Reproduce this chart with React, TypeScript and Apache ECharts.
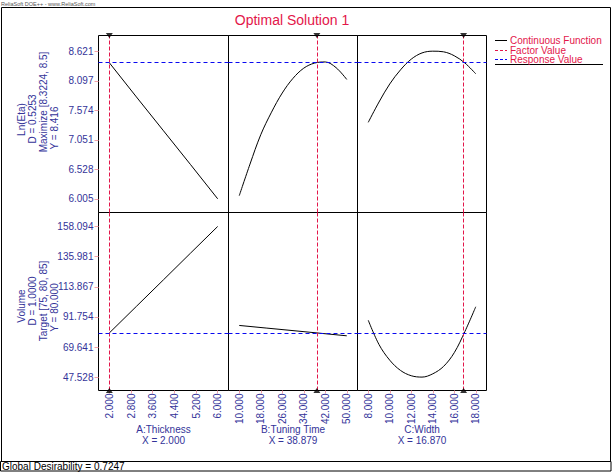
import React, { useEffect, useRef } from 'react';
import * as echarts from 'echarts';

// ---- data ----
const factorNames = ['A:Thickness', 'B:Tuning Time', 'C:Width'];
const factorValues = [2.0, 38.879, 16.87];
const factorLabels = ['X = 2.000', 'X = 38.879', 'X = 16.870'];
const xTicksA = [2, 2.8, 3.6, 4.4, 5.2, 6];
const xTicksB = [10, 18, 26, 34, 42, 50];
const xTicksC = [8, 10, 12, 14, 16, 18];
const etaTicks = [6.005, 6.528, 7.051, 7.574, 8.097, 8.621];
const volTicks = [47.528, 69.641, 91.754, 113.867, 135.981, 158.094];
const responseValues = [8.416, 80.0];
const etaNameLines = ['Ln(Eta)', 'D = 0.5253', 'Maximize [8.3224, 8.5]', 'Y = 8.416'];
const volNameLines = ['Volume', 'D = 1.0000', 'Target [75, 80, 85]', 'Y = 80.000'];

const thicknessX = [2, 3, 4, 5, 6];
const etaVsThickness = [8.416, 7.81, 7.21, 6.61, 6.005];
const volVsThickness = [80.0, 99.5, 119.0, 138.6, 158.094];
const tuningX = [10, 14, 18, 22, 26, 30, 34, 38, 42, 46, 50];
const etaVsTuning = [6.06, 6.62, 7.14, 7.54, 7.88, 8.14, 8.32, 8.41, 8.43, 8.33, 8.12];
const tuningX2 = [10, 20, 30, 40, 50];
const volVsTuning = [85.5, 83.6, 81.7, 79.8, 77.9];
const widthX = [8, 9, 10, 11, 12, 13, 14, 15, 16, 17, 18];
const etaVsWidth = [7.36, 7.72, 8.04, 8.29, 8.48, 8.59, 8.621, 8.61, 8.54, 8.41, 8.22];
const volVsWidth = [89.3, 71.5, 60.0, 52.5, 48.6, 47.6, 50.0, 55.4, 65.5, 81.2, 99.2];

// ---- layout / style ----
const xRanges = [[1.6, 6.4], [6, 54], [7, 19]];
const yRanges = [[5.762, 8.899], [37.77, 168.36]];
const colLefts = [98.5, 228.5, 357.5];
const colWidths = [130, 129, 129];
const rowTops = [35.5, 212.5];
const rowHeights = [177, 178];
const FONT = '"Liberation Sans", Arial, sans-serif';
const RED = '#e3164a';
const BLUE = '#0a0af0';
const LABEL = '#333399';
const TICK = '#f2a0a8';

const zip = (xs: number[], ys: number[]) => xs.map((x, i) => [x, ys[i]]);

export default function App() {
  const ref = useRef<HTMLDivElement>(null);
  useEffect(() => {
    if (!ref.current) return;
    const chart = echarts.init(ref.current, null, { renderer: 'svg' });
    const xTicks = [xTicksA, xTicksB, xTicksC];
    const yTicks = [etaTicks, volTicks];
    const curves = [
      [zip(thicknessX, etaVsThickness), zip(tuningX, etaVsTuning), zip(widthX, etaVsWidth)],
      [zip(thicknessX, volVsThickness), zip(tuningX2, volVsTuning), zip(widthX, volVsWidth)],
    ];
    const grid: any[] = [];
    const xAxis: any[] = [];
    const yAxis: any[] = [];
    const series: any[] = [];
    for (let r = 0; r < 2; r++) {
      for (let c = 0; c < 3; c++) {
        const i = r * 3 + c;
        grid.push({
          left: colLefts[c], top: rowTops[r], width: colWidths[c], height: rowHeights[r],
          show: true, borderColor: '#000', borderWidth: 1, backgroundColor: 'transparent',
        });
        xAxis.push({
          type: 'value', gridIndex: i, min: xRanges[c][0], max: xRanges[c][1],
          axisLine: { show: false }, splitLine: { show: false },
          axisTick: { show: r === 1, customValues: xTicks[c], length: 3, lineStyle: { color: TICK } },
          axisLabel: {
            show: r === 1, customValues: xTicks[c], rotate: 90, margin: 3,
            formatter: (v: number) => v.toFixed(3), color: LABEL, fontSize: 10, fontFamily: FONT,
          },
        });
        yAxis.push({
          type: 'value', gridIndex: i, min: yRanges[r][0], max: yRanges[r][1],
          axisLine: { show: false }, splitLine: { show: false },
          axisTick: { show: c === 0, customValues: yTicks[r], length: 4, lineStyle: { color: TICK } },
          axisLabel: {
            show: c === 0, customValues: yTicks[r], margin: 5,
            formatter: (v: number) => v.toFixed(3), color: LABEL, fontSize: 10, fontFamily: FONT,
          },
        });
        series.push({
          type: 'line', xAxisIndex: i, yAxisIndex: i, data: curves[r][c],
          smooth: curves[r][c].length > 5 ? 0.35 : false, showSymbol: false, symbol: 'none',
          lineStyle: { color: '#000', width: 1 }, z: 3,
          markLine: {
            silent: true, symbol: 'none', animation: false, label: { show: false },
            data: [
              { xAxis: factorValues[c], lineStyle: { color: RED, type: [4, 2], width: 1 } },
              { yAxis: responseValues[r], lineStyle: { color: BLUE, type: [4, 3], width: 1 } },
            ],
          },
        });
        series.push({
          type: 'scatter', xAxisIndex: i, yAxisIndex: i, clip: false, silent: true,
          symbol: 'triangle', symbolSize: [7, 5], symbolRotate: r === 0 ? 180 : 0,
          itemStyle: { color: '#000' }, z: 5,
          data: [[factorValues[c], r === 0 ? yRanges[0][1] : yRanges[1][0]]],
        });
      }
    }
    const txt = (text: string, x: number, y: number, opts: any = {}) => ({
      type: 'text', x, y, rotation: opts.rotation || 0, silent: true,
      style: {
        text, fill: opts.fill || LABEL, fontSize: opts.fontSize || 10, fontFamily: FONT,
        align: opts.align || 'center', verticalAlign: 'middle',
        textAlign: opts.align || 'center', textVerticalAlign: 'middle',
      },
    });
    const graphic: any[] = [
      { type: 'rect', shape: { x: 1.5, y: 7.5, width: 609, height: 454 }, style: { fill: 'none', stroke: '#000', lineWidth: 1 }, silent: true },
      { type: 'rect', shape: { x: 0.5, y: 461.5, width: 610.5, height: 9.5 }, style: { fill: 'none', stroke: '#000', lineWidth: 1 }, silent: true },
      txt('ReliaSoft DOE++ - www.ReliaSoft.com', 1, 3.5, { align: 'left', fill: '#555', fontSize: 5.5 }),
      txt('Global Desirability = 0.7247', 2, 466.5, { align: 'left', fill: '#000', fontSize: 10 }),
      txt('Optimal Solution 1', 292, 20, { fill: RED, fontSize: 14 }),
      // legend
      { type: 'line', shape: { x1: 495, y1: 40.5, x2: 507, y2: 40.5 }, style: { stroke: '#000', lineWidth: 1 }, silent: true },
      { type: 'line', shape: { x1: 495, y1: 50.5, x2: 507, y2: 50.5 }, style: { stroke: RED, lineWidth: 1, lineDash: [3, 2] }, silent: true },
      { type: 'line', shape: { x1: 495, y1: 59.5, x2: 507, y2: 59.5 }, style: { stroke: BLUE, lineWidth: 1, lineDash: [3, 2] }, silent: true },
      { type: 'line', shape: { x1: 495, y1: 64.5, x2: 603, y2: 64.5 }, style: { stroke: '#000', lineWidth: 1 }, silent: true },
      txt('Continuous Function', 510, 40, { align: 'left', fill: RED }),
      txt('Factor Value', 510, 50, { align: 'left', fill: RED }),
      txt('Response Value', 510, 59.5, { align: 'left', fill: RED }),
    ];
    const lineX = [21, 32, 43, 54];
    const etaY = [119.5, 119, 102, 128];
    const volY = [306, 301, 301, 307.5];
    etaNameLines.forEach((t, k) => graphic.push(txt(t, lineX[k], etaY[k], { rotation: Math.PI / 2 })));
    volNameLines.forEach((t, k) => graphic.push(txt(t, lineX[k], volY[k], { rotation: Math.PI / 2 })));
    factorNames.forEach((t, c) => {
      const cx = colLefts[c] + colWidths[c] / 2;
      graphic.push(txt(t, cx, 429, {}));
      graphic.push(txt(factorLabels[c], cx, 440, {}));
    });
    chart.setOption({
      animation: false,
      backgroundColor: '#fff',
      grid, xAxis, yAxis, series, graphic,
    });
    return () => chart.dispose();
  }, []);
  return <div ref={ref} style={{ position: 'fixed', left: 0, top: 0, width: 612, height: 472 }} />;
}
